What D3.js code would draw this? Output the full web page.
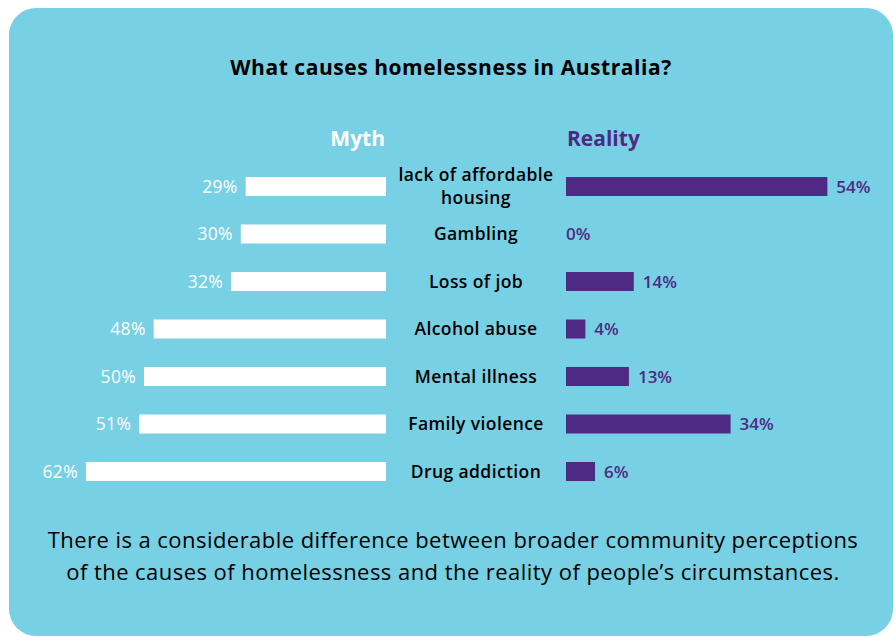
<!DOCTYPE html>
<html><head><meta charset="utf-8">
<script src="https://cdn.jsdelivr.net/npm/d3@7"></script>
<style>body{margin:0;background:#fff;}svg{display:block;}</style>
</head><body>
<script>
const categories = [["lack of affordable","housing"],["Gambling"],["Loss of job"],["Alcohol abuse"],["Mental illness"],["Family violence"],["Drug addiction"]];
const mythValues = [29,30,32,48,50,51,62];
const realityValues = [54,0,14,4,13,34,6];
const title = "What causes homelessness in Australia?";
const footer = ["There is a considerable difference between broader community perceptions","of the causes of homelessness and the reality of people\u2019s circumstances."];

const W=895,H=637;
const font="'Open Sans', Roboto, sans-serif";
const purple="#4e2a84";
const svg=d3.select("body").append("svg").attr("width",W).attr("height",H);
svg.append("rect").attr("x",9).attr("y",8).attr("width",884).attr("height",628).attr("rx",27).attr("fill","#78d0e4");

const ids=d3.range(categories.length);
const y=d3.scaleBand().domain(ids).range([177,481]).paddingInner(0.6).paddingOuter(0);
const k=d3.scaleLinear().domain([0,100]).range([0,484]);
const mythRight=386, realLeft=566;

svg.append("text").attr("x",451).attr("y",75).attr("text-anchor","middle").attr("font-family",font).attr("font-weight",700).attr("font-size",21).attr("letter-spacing",0.55).attr("fill","#000").text(title);
svg.append("text").attr("x",385).attr("y",146).attr("text-anchor","end").attr("font-family",font).attr("font-weight",700).attr("font-size",21).attr("fill","#fff").text("Myth");
svg.append("text").attr("x",567).attr("y",146).attr("font-family",font).attr("font-weight",700).attr("font-size",21).attr("fill",purple).text("Reality");

const g=svg.append("g");
g.selectAll("rect.m").data(ids).join("rect").attr("class","m")
 .attr("x",i=>mythRight-k(mythValues[i])).attr("y",i=>y(i)).attr("width",i=>k(mythValues[i])).attr("height",y.bandwidth()).attr("fill","#fff");
g.selectAll("text.m").data(ids).join("text").attr("class","m")
 .attr("x",i=>mythRight-k(mythValues[i])-8).attr("y",i=>y(i)+y.bandwidth()/2+6).attr("text-anchor","end")
 .attr("font-family",font).attr("font-size",17.5).attr("letter-spacing",0.3).attr("fill","#fff").text(i=>mythValues[i]+"%");
g.selectAll("rect.r").data(ids).join("rect").attr("class","r")
 .attr("x",realLeft).attr("y",i=>y(i)).attr("width",i=>k(realityValues[i])).attr("height",y.bandwidth()).attr("fill",purple);
g.selectAll("text.r").data(ids).join("text").attr("class","r")
 .attr("x",i=>realLeft+k(realityValues[i])+(realityValues[i]>0?9:0)).attr("y",i=>y(i)+y.bandwidth()/2+6)
 .attr("font-family",font).attr("font-weight",600).attr("font-size",17).attr("fill",purple).text(i=>realityValues[i]+"%");
const cl=g.selectAll("text.c").data(ids).join("text").attr("class","c")
 .attr("x",476).attr("y",i=>y(i)+y.bandwidth()/2+6-(categories[i].length-1)*11.5).attr("text-anchor","middle")
 .attr("font-family",font).attr("font-weight",600).attr("font-size",17.5).attr("letter-spacing",0.4).attr("fill","#000");
cl.each(function(i){const t=d3.select(this);categories[i].forEach((s,j)=>t.append("tspan").attr("x",476).attr("dy",j?23:0).text(s));});

svg.append("text").attr("x",453).attr("y",548).attr("text-anchor","middle").attr("font-family",font).attr("font-size",22).attr("letter-spacing",0.45).attr("fill","#000")
 .selectAll("tspan").data(footer).join("tspan").attr("x",453).attr("dy",(d,j)=>j?32:0).text(d=>d);
</script>
</body></html>
